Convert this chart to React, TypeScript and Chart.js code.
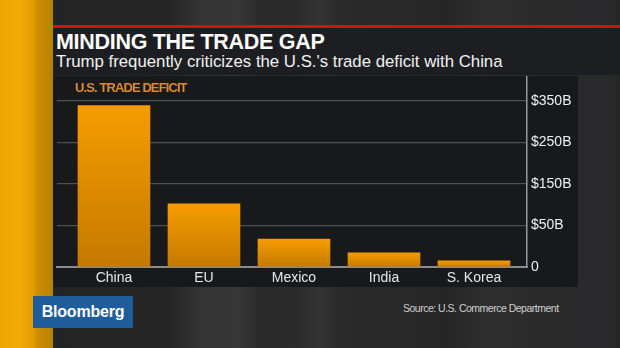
import React, { useEffect, useRef } from "react";
import { Chart, registerables } from "chart.js";

Chart.register(...registerables);

// ---- data ----
const categories = ["China", "EU", "Mexico", "India", "S. Korea"];
const deficitValues = [340, 133, 59, 30, 13];
const yTickValues = [0, 87.5, 175, 262.5, 350];
const yTickLabels = ["0", "$50B", "$150B", "$250B", "$350B"];

const FONT = "'Liberation Sans', Arial, Helvetica, sans-serif";

export default function App() {
  const canvasRef = useRef<HTMLCanvasElement | null>(null);

  useEffect(() => {
    const canvas = canvasRef.current;
    if (!canvas) return;
    Chart.defaults.font.family = FONT;
    const chart = new Chart(canvas, {
      type: "bar",
      data: {
        datasets: [
          {
            data: categories.map((c, i) => ({ x: i, y: deficitValues[i] })),
            barThickness: 72,
            borderWidth: 0,
            backgroundColor: (ctx: any) => {
              const ch = ctx.chart;
              const ys = ch.scales && ch.scales.y;
              if (!ys || !ctx.raw) return "#e08c00";
              const top = ys.getPixelForValue(ctx.raw.y);
              const bottom = ys.getPixelForValue(0);
              if (!isFinite(top) || !isFinite(bottom) || top === bottom) return "#e08c00";
              const g = ch.ctx.createLinearGradient(0, top, 0, bottom);
              g.addColorStop(0, "#f59c00");
              g.addColorStop(1, "#c47a00");
              return g;
            },
          },
        ],
      },
      options: {
        animation: false,
        responsive: false,
        maintainAspectRatio: false,
        layout: { padding: { left: 4, top: 1, right: 0, bottom: 0 } },
        plugins: { legend: { display: false }, tooltip: { enabled: false } },
        scales: {
          x: {
            type: "linear",
            offset: false,
            min: -0.633,
            max: 4.589,
            grid: { display: false, drawTicks: false, offset: false },
            border: { display: true, color: "#8c8c8c", width: 2 },
            ticks: {
              color: "#e6e6e6",
              font: { size: 14 },
              padding: 3,
              autoSkip: false,
              maxRotation: 0,
              callback: (v: any) => categories[v] ?? "",
            },
            afterBuildTicks: (s: any) => {
              s.ticks = categories.map((_, i) => ({ value: i }));
            },
            afterFit: (s: any) => {
              s.height = 24;
              s.paddingLeft = 0;
              s.paddingRight = 0;
            },
          },
          y: {
            position: "right",
            min: 0,
            max: 400,
            grid: {
              drawTicks: false,
              lineWidth: 1.2,
              color: (c: any) => (c.tick && c.tick.value === 0 ? "rgba(0,0,0,0)" : "#505050"),
            },
            border: { display: true, color: "#9a9a9a", width: 1.5 },
            ticks: {
              color: "#f0f0f0",
              font: { size: 14 },
              padding: 4,
              callback: (v: any, i: number) => yTickLabels[i],
            },
            afterBuildTicks: (s: any) => {
              s.ticks = yTickValues.map((v) => ({ value: v }));
            },
            afterFit: (s: any) => {
              s.width = 51;
              s.paddingTop = 0;
              s.paddingBottom = 0;
            },
          },
        },
      },
    } as any);
    return () => chart.destroy();
  }, []);

  const abs = (l: number, t: number, w: number, h: number, extra: React.CSSProperties = {}): React.CSSProperties => ({
    position: "absolute",
    left: l,
    top: t,
    width: w,
    height: h,
    ...extra,
  });

  return (
    <div
      style={{
        position: "fixed",
        left: 0,
        top: 0,
        width: 620,
        height: 348,
        overflow: "hidden",
        fontFamily: FONT,
        background:
          "linear-gradient(90deg, #232324 0px, #262627 170px, #343435 200px, #363637 240px, #2a2a2b 260px, #2c2c2d 300px, #333334 320px, #2a2a2b 340px, #262627 450px, #2e2e2f 480px, #2a2a2b 560px, #2b2b2d 600px, #262627 620px)",
      }}
    >
      {/* orange stripe */}
      <div style={abs(0, 0, 35, 348, { background: "linear-gradient(90deg, #eea600 0px, #f2ab08 20px, #e09a00 35px)" })} />
      <div style={abs(35, 0, 18, 348, { background: "linear-gradient(90deg, #cf9200, #b88000)" })} />
      {/* red line */}
      <div style={abs(53, 25, 567, 2.5, { background: "#c4161c" })} />
      {/* title box */}
      <div style={abs(53, 27.5, 567, 47.5, { background: "#1d1e21" })} />
      <div
        style={abs(56, 30, 500, 24, {
          color: "#ffffff",
          fontWeight: 700,
          fontSize: 21.5,
          lineHeight: "24px",
          whiteSpace: "nowrap",
          letterSpacing: -0.3,
        })}
      >
        MINDING THE TRADE GAP
      </div>
      <div
        style={abs(56, 52, 560, 20, {
          color: "#f2f2f2",
          fontSize: 16.8,
          lineHeight: "20px",
          whiteSpace: "nowrap",
          letterSpacing: 0,
        })}
      >
        Trump frequently criticizes the U.S.'s trade deficit with China
      </div>
      {/* chart panel */}
      <div style={abs(53, 76, 525, 211, { background: "#18191b" })} />
      <canvas
        ref={canvasRef}
        width={525}
        height={215}
        style={{ position: "absolute", left: 53, top: 76, width: 525, height: 215 }}
      />
      <div
        style={abs(75, 80, 200, 16, {
          color: "#e0892a",
          fontWeight: 700,
          fontSize: 13,
          lineHeight: "16px",
          whiteSpace: "nowrap",
          letterSpacing: -0.9,
        })}
      >
        U.S. TRADE DEFICIT
      </div>
      {/* Bloomberg logo */}
      <div
        style={abs(33, 296, 100, 32, {
          background: "#1f5c9c",
          color: "#ffffff",
          fontWeight: 700,
          fontSize: 16,
          lineHeight: "32px",
          textAlign: "center",
          letterSpacing: -0.2,
        })}
      >
        Bloomberg
      </div>
      {/* source */}
      <div
        style={abs(403, 301, 200, 14, {
          color: "#d0d0d0",
          fontSize: 10.5,
          lineHeight: "14px",
          whiteSpace: "nowrap",
          letterSpacing: -0.5,
        })}
      >
        Source: U.S. Commerce Department
      </div>
    </div>
  );
}
